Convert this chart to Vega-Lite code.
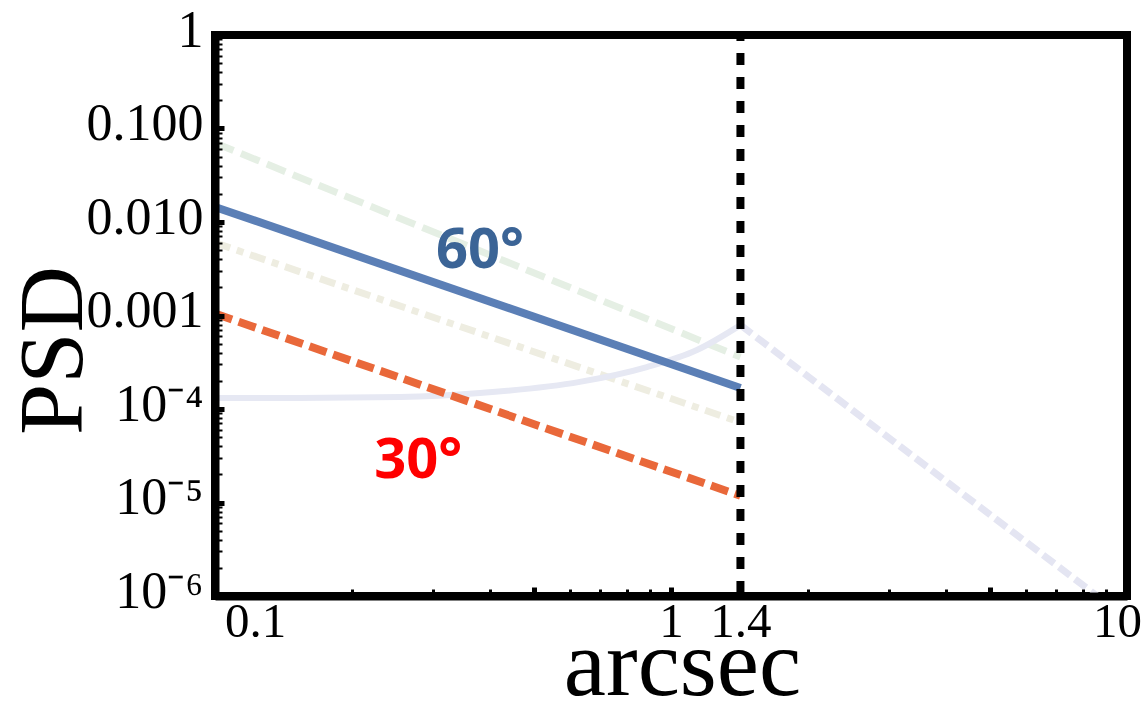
{
  "$schema": "https://vega.github.io/schema/vega-lite/v6.json",
  "width": 912,
  "height": 561,
  "autosize": {"type": "none"},
  "padding": {"left": 215, "top": 35, "right": 21, "bottom": 119},
  "background": "white",
  "datasets": {
    "lines": [
      {"series": "green", "x": 0.1, "y": 0.07},
      {"series": "green", "x": 1.42, "y": 0.00036},
      {"series": "beige", "x": 0.1, "y": 0.006},
      {"series": "beige", "x": 1.42, "y": 0.000072},
      {"series": "curve", "x": 0.1, "y": 0.000131},
      {"series": "curve", "x": 0.153, "y": 0.000131},
      {"series": "curve", "x": 0.255, "y": 0.000134},
      {"series": "curve", "x": 0.381, "y": 0.000148},
      {"series": "curve", "x": 0.631, "y": 0.000195},
      {"series": "curve", "x": 0.885, "y": 0.000281},
      {"series": "curve", "x": 1.14, "y": 0.000428},
      {"series": "curve", "x": 1.42, "y": 0.00079},
      {"series": "fall", "x": 1.42, "y": 0.00079},
      {"series": "fall", "x": 8.6, "y": 0.000001},
      {"series": "60", "x": 0.1, "y": 0.0145},
      {"series": "60", "x": 1.42, "y": 0.000168},
      {"series": "30", "x": 0.1, "y": 0.00105},
      {"series": "30", "x": 1.42, "y": 0.0000118}
    ],
    "cut": [{"x": 1.42}],
    "labels": [
      {"label": "60°", "x": 0.381, "y": 0.0049},
      {"label": "30°", "x": 0.279, "y": 0.000028}
    ],
    "dummy": [{"x": 1, "y": 0.001}]
  },
  "resolve": {"axis": {"x": "independent", "y": "independent"}},
  "layer": [
    {
      "layer": [
        {
          "data": {"name": "lines"},
          "transform": [{"filter": "datum.series == 'green'"}],
          "mark": {"type": "line", "color": "#e5efe4", "strokeWidth": 7, "strokeDash": [20, 8], "clip": true},
          "encoding": {
            "x": {
              "field": "x", "type": "quantitative",
              "scale": {"type": "log", "domain": [0.1, 10], "nice": false},
              "axis": {
                "orient": "bottom",
                "title": "arcsec",
                "values": [0.1, 0.5, 1, 1.42, 5, 10],
                "labelExpr": "datum.value < 0.2 ? '0.1' : datum.value == 1 ? '1' : (datum.value > 1.3 && datum.value < 1.5) ? '1.4' : datum.value > 9 ? '10' : ''",
                "labelFlush": false,
                "labelOverlap": false,
                "labelFontSize": 49,
                "labelPadding": 10,
                "labelOffset": {"condition": [{"test": "datum.value < 0.2", "value": 40}, {"test": "datum.value > 9", "value": -10}], "value": 0},
                "tickSize": -9,
                "tickWidth": 5,
                "domain": true,
                "domainWidth": 8,
                "domainColor": "black",
                "titleFontSize": 95,
                "titleX": 467,
                "titleY": 98,
                "titleAlign": "center",
                "titleBaseline": "alphabetic",
                "zindex": 1
              }
            },
            "y": {
              "field": "y", "type": "quantitative",
              "scale": {"type": "log", "domain": [0.000001, 1], "nice": false},
              "axis": {
                "orient": "left",
                "title": "PSD",
                "values": [1, 0.1, 0.01, 0.001, 0.0001, 0.00001, 0.000001],
                "labelExpr": "datum.value > 0.5 ? '1' : datum.value > 0.05 ? '0.100' : datum.value > 0.005 ? '0.010' : datum.value > 0.0005 ? '0.001' : datum.value > 0.00005 ? '10⁻⁴' : datum.value > 0.000005 ? '10⁻⁵' : '10⁻⁶'",
                "labelFlush": false,
                "labelOverlap": false,
                "labelFontSize": 52,
                "labelPadding": 21,
                "labelOffset": -5,
                "labelBaseline": "middle",
                "tickSize": -9,
                "tickWidth": 5,
                "domain": true,
                "domainWidth": 8,
                "domainColor": "black",
                "titleFontSize": 92,
                "titleAngle": -90,
                "titleX": -162,
                "titleY": 315,
                "titleAlign": "center",
                "titleBaseline": "middle",
                "zindex": 1
              }
            }
          }
        },
        {
          "data": {"name": "lines"},
          "transform": [{"filter": "datum.series == 'beige'"}],
          "mark": {"type": "line", "color": "#eeede1", "strokeWidth": 7, "strokeDash": [16, 7, 7, 7], "clip": true},
          "encoding": {
            "x": {"field": "x", "type": "quantitative"},
            "y": {"field": "y", "type": "quantitative"}
          }
        },
        {
          "data": {"name": "lines"},
          "transform": [{"filter": "datum.series == 'curve'"}],
          "mark": {"type": "line", "color": "#e6e8f3", "strokeWidth": 6, "interpolate": "monotone", "clip": true},
          "encoding": {
            "x": {"field": "x", "type": "quantitative"},
            "y": {"field": "y", "type": "quantitative"}
          }
        },
        {
          "data": {"name": "lines"},
          "transform": [{"filter": "datum.series == 'fall'"}],
          "mark": {"type": "line", "color": "#e4e5f2", "strokeWidth": 7, "strokeDash": [14, 6], "clip": true},
          "encoding": {
            "x": {"field": "x", "type": "quantitative"},
            "y": {"field": "y", "type": "quantitative"}
          }
        },
        {
          "data": {"name": "lines"},
          "transform": [{"filter": "datum.series == '60'"}],
          "mark": {"type": "line", "color": "#5b7fb6", "strokeWidth": 8, "clip": true},
          "encoding": {
            "x": {"field": "x", "type": "quantitative"},
            "y": {"field": "y", "type": "quantitative"}
          }
        },
        {
          "data": {"name": "lines"},
          "transform": [{"filter": "datum.series == '30'"}],
          "mark": {"type": "line", "color": "#e9683a", "strokeWidth": 8, "strokeDash": [18, 7], "clip": true},
          "encoding": {
            "x": {"field": "x", "type": "quantitative"},
            "y": {"field": "y", "type": "quantitative"}
          }
        },
        {
          "data": {"name": "cut"},
          "mark": {"type": "rule", "color": "black", "strokeWidth": 8, "strokeDash": [12, 12], "strokeDashOffset": 6},
          "encoding": {
            "x": {"field": "x", "type": "quantitative"}
          }
        },
        {
          "data": {"name": "labels"},
          "mark": {"type": "text", "font": "Open Sans", "fontWeight": "bold", "fontSize": 56, "align": "center", "baseline": "middle"},
          "encoding": {
            "x": {"field": "x", "type": "quantitative"},
            "y": {"field": "y", "type": "quantitative"},
            "text": {"field": "label"},
            "color": {"field": "label", "type": "nominal", "scale": {"domain": ["60°", "30°"], "range": ["#3b6496", "#ff0000"]}, "legend": null}
          }
        }
      ]
    },
    {
      "data": {"name": "dummy"},
      "mark": {"type": "point", "opacity": 0, "size": 0},
      "encoding": {
        "x": {
          "field": "x", "type": "quantitative",
          "axis": {
            "orient": "bottom", "title": null, "labels": false, "domain": false,
            "values": [0.2, 0.3, 0.4, 0.6, 0.7, 0.8, 0.9, 2, 3, 4, 6, 7, 8, 9],
            "tickSize": -7, "tickWidth": 3, "zindex": 1
          }
        },
        "y": {
          "field": "y", "type": "quantitative",
          "axis": {
            "orient": "left", "title": null, "labels": false, "domain": false,
            "values": [0.2, 0.3, 0.4, 0.5, 0.6, 0.7, 0.8, 0.9, 0.02, 0.03, 0.04, 0.05, 0.06, 0.07, 0.08, 0.09, 0.002, 0.003, 0.004, 0.005, 0.006, 0.007, 0.008, 0.009, 0.0002, 0.0003, 0.0004, 0.0005, 0.0006, 0.0007, 0.0008, 0.0009, 0.00002, 0.00003, 0.00004, 0.00005, 0.00006, 0.00007, 0.00008, 0.00009, 0.000002, 0.000003, 0.000004, 0.000005, 0.000006, 0.000007, 0.000008, 0.000009],
            "tickSize": -7, "tickWidth": 2, "zindex": 1
          }
        }
      }
    }
  ],
  "config": {
    "view": {"stroke": "black", "strokeWidth": 8},
    "axis": {
      "grid": false,
      "tickColor": "black",
      "labelColor": "black",
      "titleColor": "black",
      "labelFont": "Liberation Serif",
      "titleFont": "Liberation Serif",
      "titleFontWeight": "normal"
    }
  }
}
